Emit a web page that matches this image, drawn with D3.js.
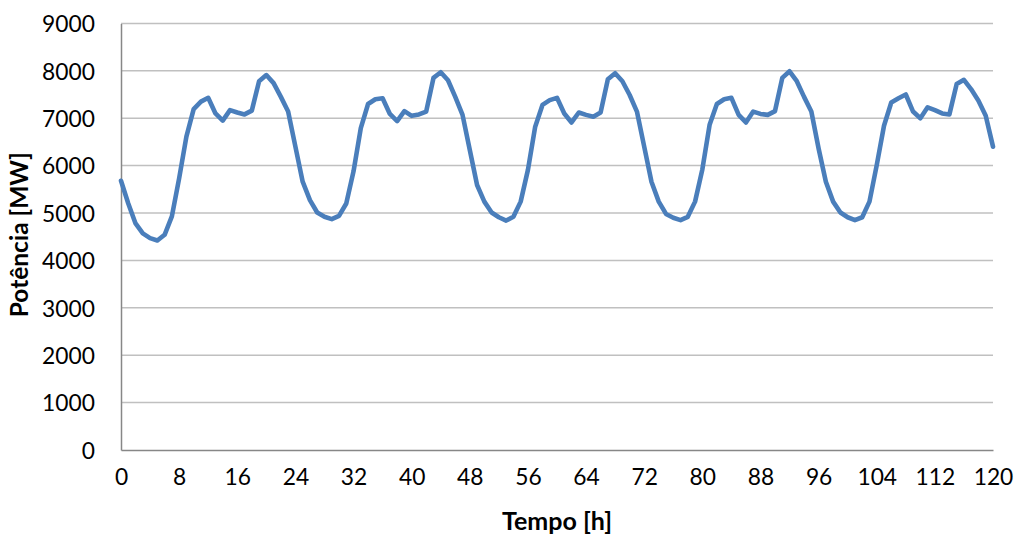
<!DOCTYPE html>
<html>
<head>
<meta charset="utf-8">
<script src="https://cdn.jsdelivr.net/npm/d3@7"></script>
<style>
  html, body { margin: 0; padding: 0; background: #fff; }
  svg { display: block; }
  text { font-family: Lato, "Open Sans", sans-serif; fill: #000; }
</style>
</head>
<body>
<svg id="chart" width="1017" height="538"></svg>
<script>
// Hourly load (MW), hours 0..120
const hours = d3.range(0, 121);
const potencia = [
  5680, 5200, 4780, 4570, 4470, 4420, 4540, 4930, 5730, 6610,
  7190, 7350, 7430, 7100, 6950, 7170, 7120, 7080, 7160, 7780,
  7910, 7740, 7450, 7140, 6400, 5660, 5270, 5010, 4920, 4870,
  4940, 5200, 5880, 6790, 7300, 7400, 7420, 7090, 6940, 7150,
  7050, 7080, 7140, 7850, 7970, 7800, 7450, 7070, 6330, 5590,
  5240, 5010, 4910, 4840, 4920, 5240, 5910, 6820, 7280, 7380,
  7430, 7100, 6910, 7120, 7070, 7030, 7120, 7820, 7950, 7780,
  7490, 7140, 6400, 5660, 5240, 4980, 4900, 4850, 4920, 5240,
  5920, 6860, 7300, 7400, 7430, 7070, 6910, 7140, 7090, 7070,
  7150, 7850, 7990, 7780, 7450, 7140, 6360, 5660, 5240, 5010,
  4910, 4850, 4910, 5240, 6010, 6840, 7330, 7420, 7500, 7140,
  7000, 7230, 7170, 7100, 7080, 7720, 7810, 7610, 7370, 7050,
  6400
];
const xTicks = d3.range(0, 121, 8);
const yTicks = d3.range(0, 9001, 1000);
const xTitle = "Tempo [h]";
const yTitle = "Potência [MW]";

const svg = d3.select("#chart");
const plotLeft = 121, plotRight = 993, plotTop = 23.4, plotBottom = 450;

const x = d3.scaleLinear().domain([0, 120]).range([plotLeft, plotRight]);
const y = d3.scaleLinear().domain([0, 9000]).range([plotBottom, plotTop]);

// horizontal gridlines
svg.append("g")
  .selectAll("line")
  .data(yTicks.filter(d => d > 0))
  .join("line")
  .attr("x1", plotLeft).attr("x2", plotRight)
  .attr("y1", d => y(d)).attr("y2", d => y(d))
  .attr("stroke", "#c0c0c0").attr("stroke-width", 1.5);

// y axis
const yAxis = svg.append("g")
  .attr("transform", `translate(${plotLeft},0)`)
  .call(d3.axisLeft(y).tickValues(yTicks).tickSize(0).tickPadding(26).tickFormat(d3.format("d")));
yAxis.select(".domain").attr("stroke", "#878787").attr("stroke-width", 1.5);
yAxis.selectAll("text").style("font-size", "22.8px").attr("dy", "0.36em");

// x axis
const xAxis = svg.append("g")
  .attr("transform", `translate(0,${plotBottom})`)
  .call(d3.axisBottom(x).tickValues(xTicks).tickSize(0).tickPadding(27).tickFormat(d3.format("d")));
xAxis.select(".domain").attr("stroke", "#878787").attr("stroke-width", 1.5);
xAxis.selectAll("text").style("font-size", "22.8px").attr("dy", "0.36em");

// load curve
const line = d3.line().x((d, i) => x(hours[i])).y(d => y(d));
svg.append("path")
  .datum(potencia)
  .attr("d", line)
  .attr("fill", "none")
  .attr("stroke", "#4a7ebb")
  .attr("stroke-width", 4.6)
  .attr("stroke-linejoin", "round")
  .attr("stroke-linecap", "round");

// axis titles
svg.append("text")
  .attr("x", (plotLeft + plotRight) / 2).attr("y", 530)
  .attr("text-anchor", "middle")
  .style("font-size", "25px").style("font-weight", "bold")
  .text(xTitle);

svg.append("text")
  .attr("transform", `translate(28,${(plotTop + plotBottom) / 2 - 2}) rotate(-90)`)
  .attr("text-anchor", "middle")
  .style("font-size", "24.5px").style("font-weight", "bold")
  .text(yTitle);
</script>
</body>
</html>
